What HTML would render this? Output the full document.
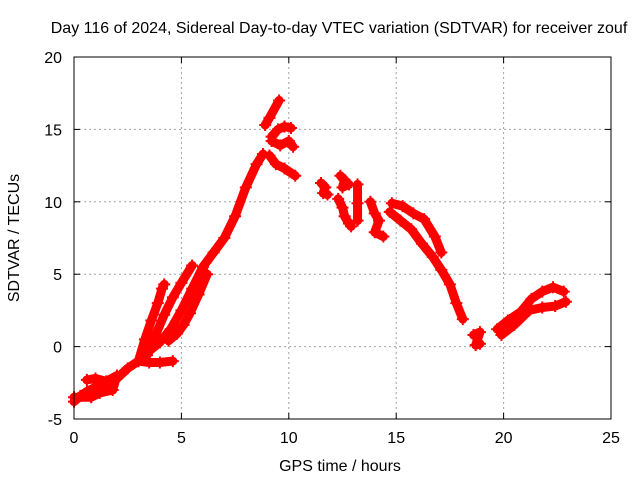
<!DOCTYPE html>
<html><head><meta charset="utf-8"><style>
body{margin:0;background:#fff}
svg{display:block;font-family:"Liberation Sans",sans-serif}
</style></head><body>
<svg id="chart" width="640" height="480" viewBox="0 0 640 480">
<rect width="640" height="480" fill="#fff"/>
<text x="339" y="33" font-size="16" text-anchor="middle">Day 116 of 2024, Sidereal Day-to-day VTEC variation (SDTVAR) for receiver zouf</text>
<g id="grid"></g>
<g id="ticks"></g>
<g id="marks"></g>
<rect x="74" y="57" width="537" height="362" fill="none" stroke="#000" stroke-width="1"/>
<text x="340" y="471" font-size="16" text-anchor="middle">GPS time / hours</text>
<text transform="translate(19,238) rotate(-90)" font-size="16" text-anchor="middle">SDTVAR / TECUs</text>
</svg>
<script>
const xTicks=[0,5,10,15,20,25];
const yTicks=[-5,0,5,10,15,20];
const trackMain=[[0,-3.8],[0.3,-3.4],[0.6,-3.1],[1,-2.8],[1.5,-2.6],[2,-2.2],[2.5,-1.5],[3,-1.0],[3.5,-0.3],[4,0.3],[4.5,1.2],[5,2.5],[5.5,4],[6,5.5],[6.5,6.5],[7,7.5],[7.5,9],[8,11],[8.5,12.6],[8.8,13.3]];
const trackLowCluster=[[0.6,-2.3],[1,-2.2],[1.5,-2.4],[2,-2.0],[1.8,-3.0],[1.2,-3.2],[0.8,-3.5],[0,-3.5]];
const trackB1=[[3,-1],[3.3,0.5],[3.6,1.8],[3.9,3.0],[4.1,4.0],[4.2,4.3]];
const trackB2=[[3.4,-0.6],[3.8,0.8],[4.2,2.2],[4.6,3.4],[5,4.4],[5.5,5.6]];
const trackB4=[[3,-1.0],[3.5,-1.1],[4,-1.1],[4.6,-1.0]];
const trackB5=[[4.4,0.4],[4.8,0.9],[5.1,1.5],[5.4,2.3],[5.8,3.6],[6.2,5.0]];
const trackPeakA=[[8.9,15.3],[9.1,15.8],[9.55,17.0]];
const trackPeakB=[[9.2,14.5],[9.5,15.0],[9.8,15.2],[10.1,15.1]];
const trackPeakC=[[9.2,14.2],[9.6,13.9],[10,14.2],[10.2,13.8]];
const trackPeakD=[[9.1,13.2],[9.4,12.6],[9.8,12.3],[10.3,11.8]];
const track11=[[11.5,11.3],[11.7,11.0],[11.6,10.6],[11.8,10.5]];
const track12a=[[12.4,11.8],[12.6,11.5],[12.5,11.0],[12.8,11.2]];
const track12b=[[12.3,10.2],[12.5,9.6],[12.6,9.0],[12.8,8.5],[12.9,8.3]];
const track13=[[13.2,11.2],[13.2,9.9],[13.2,8.7]];
const track14=[[13.8,10.0],[14.0,9.2],[14.2,8.7],[14.0,7.9],[14.4,7.6]];
const trackLate1=[[14.8,9.9],[15.3,9.7],[15.8,9.2],[16.3,8.8],[16.8,7.6],[17.1,6.5]];
const trackLate2=[[14.7,9.3],[15.2,8.7],[15.7,8.1],[16.2,7.1],[16.7,6.2],[17.1,5.3],[17.5,4.3],[17.8,3.0],[18.1,1.9]];
const trackDip=[[18.6,0.8],[18.9,1.0],[18.7,0.1],[18.9,0.2]];
const trackEnd1=[[19.7,1.2],[20.2,1.8],[20.8,2.4],[21.3,3.3],[21.8,3.8],[22.3,4.1],[22.8,3.8]];
const trackEnd2=[[19.9,0.8],[20.5,1.5],[21.2,2.5],[21.8,2.7],[22.4,2.8],[22.9,3.1]];
const tracks=[trackMain,trackLowCluster,trackB1,trackB2,trackB4,trackB5,trackPeakA,trackPeakB,trackPeakC,trackPeakD,track11,track12a,track12b,track13,track14,trackLate1,trackLate2,trackDip,trackEnd1,trackEnd2];

const X0=74,X1=611,Y0=419,Y1=57;
function sx(v){return X0+(v-0)/25*(X1-X0);}
function sy(v){return Y0-(v+5)/25*(Y0-Y1);}
const NS="http://www.w3.org/2000/svg";
const grid=document.getElementById('grid'),ticks=document.getElementById('ticks'),marks=document.getElementById('marks');
function mk(tag,attrs,parent){const e=document.createElementNS(NS,tag);for(const k in attrs)e.setAttribute(k,attrs[k]);parent.appendChild(e);return e;}
xTicks.forEach(t=>{
  const x=sx(t);
  if(t>0&&t<25){const g=mk('line',{x1:x,y1:Y0,x2:x,y2:Y1,stroke:'#a0a0a0','stroke-dasharray':'2,3'},grid);
  
  }
  mk('line',{x1:x,y1:Y0,x2:x,y2:Y0-6,stroke:'#000'},ticks);
  mk('line',{x1:x,y1:Y1,x2:x,y2:Y1+6,stroke:'#000'},ticks);
  const l=mk('text',{x:x,y:Y0+24,'font-size':16,'text-anchor':'middle'},ticks);l.textContent=t;
  
  
});
yTicks.forEach(t=>{
  const y=sy(t);
  if(t>-5&&t<20){const g=mk('line',{x1:X0,y1:y,x2:X1,y2:y,stroke:'#a0a0a0','stroke-dasharray':'2,3'},grid);
  
  }
  mk('line',{x1:X0,y1:y,x2:X0+6,y2:y,stroke:'#000'},ticks);
  mk('line',{x1:X1,y1:y,x2:X1-6,y2:y,stroke:'#000'},ticks);
  const l=mk('text',{x:X0-12,y:y+6,'font-size':16,'text-anchor':'end'},ticks);l.textContent=t;
  
  
});
tracks.forEach(tr=>{
  const pts=tr.map(p=>sx(p[0])+','+sy(p[1])).join(' ');
  const pl=mk('polyline',{points:pts,fill:'none',stroke:'#f00','stroke-width':9,'stroke-linejoin':'round','stroke-linecap':'round'},marks);
  
  
  tr.forEach(p=>{
    const x=sx(p[0]),y=sy(p[1]);
    const m=mk('path',{d:`M${x-6},${y}H${x+6}M${x},${y-6}V${y+6}`,stroke:'#f00','stroke-width':2},marks);
    
    
  });
});
</script>
</body></html>
